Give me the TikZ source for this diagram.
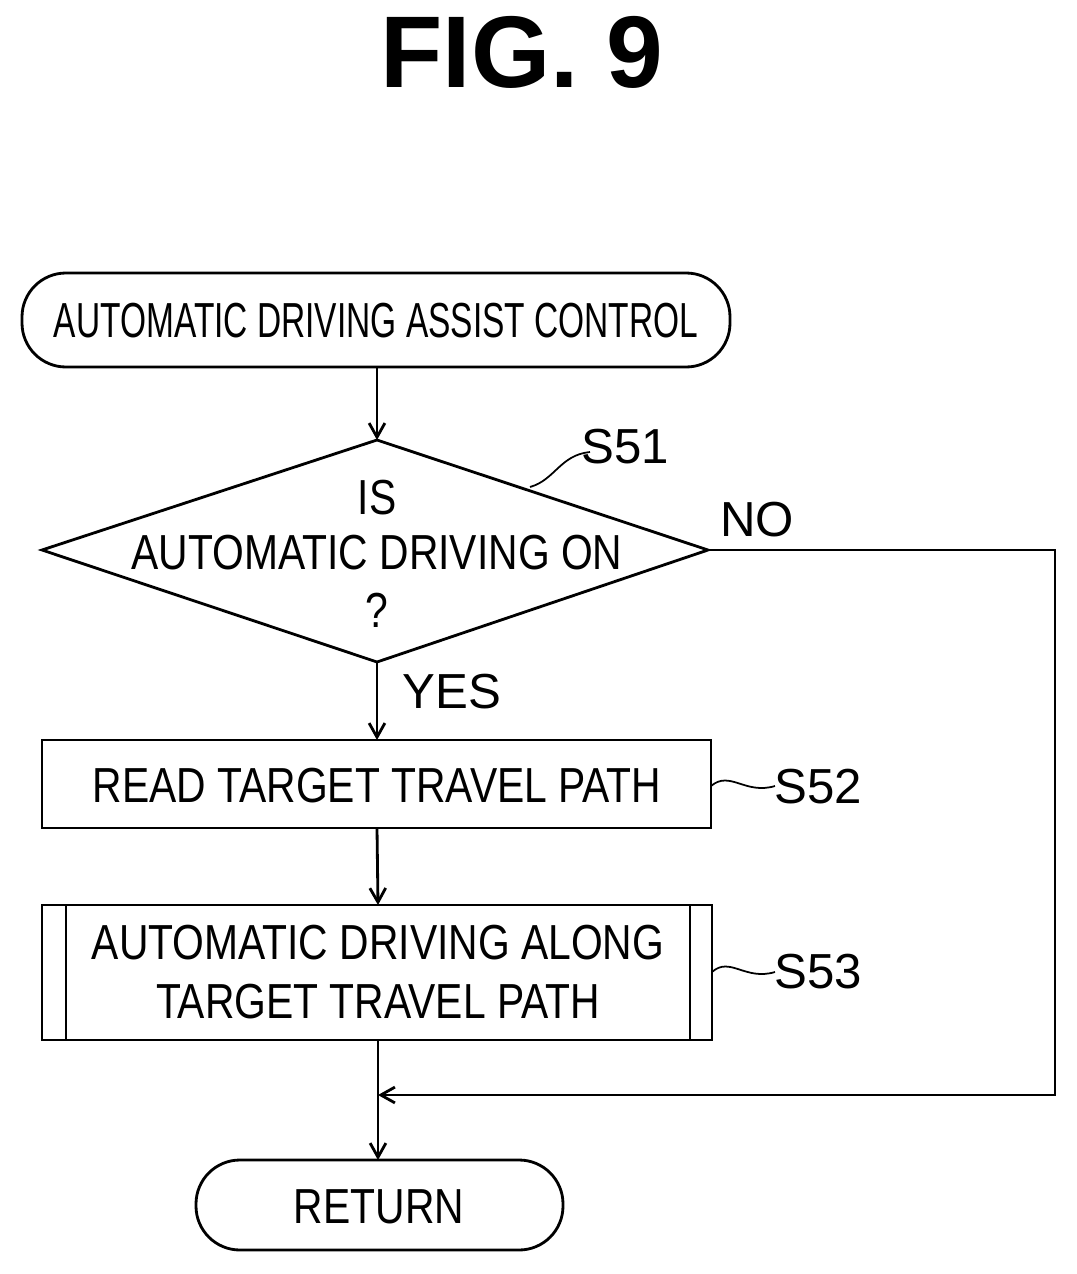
\documentclass[tikz,border=0pt]{standalone}
\usepackage{fontspec}
\setmainfont{Liberation Sans}
\usetikzlibrary{shapes.geometric,arrows.meta}
\begin{document}
\begin{tikzpicture}[x=0.02cm,y=-0.02cm,line width=1.6pt,
 txt/.style={font=\fontsize{28}{34}\selectfont,xscale=0.83,align=center,inner sep=0pt},
 lbl/.style={font=\fontsize{28}{34}\selectfont,inner sep=0pt},
 arr/.style={-{Straight Barb[length=8pt,width=9pt]}}]
\useasboundingbox (0,0) rectangle (1077,1274);
\node[font=\bfseries\fontsize{58}{60}\selectfont] (title) at (522,52) {FIG. 9};
\draw[rounded corners=25pt] (22,273) rectangle (730,367);
\coordinate (st) at (377,367);
\node[txt,xscale=0.82] (stt) at (376,321) {AUTOMATIC DRIVING ASSIST CONTROL};
\draw (42,550) -- (377,440) -- (708,550) -- (377,662) -- cycle;
\coordinate (dt) at (377,440); \coordinate (db) at (377,662); \coordinate (dr) at (708,550);
\node[txt] (d1) at (377,498) {IS};
\node[txt] (d2) at (377,553) {AUTOMATIC DRIVING ON};
\node[txt] (d3) at (377,610) {?};
\node[lbl] (s51) at (625,447) {S51};
\draw[line width=1pt] (530,487) .. controls (555,480) and (560,455) .. (590,452);
\node[lbl] (no) at (757,520) {NO};
\node[lbl] (yes) at (452,692) {YES};
\draw (42,740) rectangle (711,828);
\coordinate (b1t) at (377,740); \coordinate (b1b) at (377,828);
\node[txt] (b1) at (377,786) {READ TARGET TRAVEL PATH};
\node[lbl] (s52) at (818,787) {S52};
\draw[line width=1pt] (711,786) .. controls (730,770) and (745,795) .. (775,786);
\draw (42,905) rectangle (712,1040);
\draw (66,905) -- (66,1040) (690,905) -- (690,1040);
\coordinate (b2t) at (378,905); \coordinate (b2b) at (378,1040);
\node[txt] (b2) at (378,972) {AUTOMATIC DRIVING ALONG\\TARGET TRAVEL PATH};
\node[lbl] (s53) at (818,972) {S53};
\draw[line width=1pt] (712,972) .. controls (730,956) and (745,981) .. (775,972);
\draw[rounded corners=25pt] (196,1160) rectangle (563,1250);
\coordinate (rt) at (378,1160);
\node[txt] (ret) at (379,1207) {RETURN};
\coordinate (j) at (378,1095);
\draw[arr] (st) -- (dt);
\draw[arr] (db) -- (b1t);
\draw[arr] (b1b) -- (b2t);
\draw[arr] (b2b) -- (rt);
\draw[arr] (dr) -- (1055,550) -- (1055,1095) -- (j);
\end{tikzpicture}
\end{document}
